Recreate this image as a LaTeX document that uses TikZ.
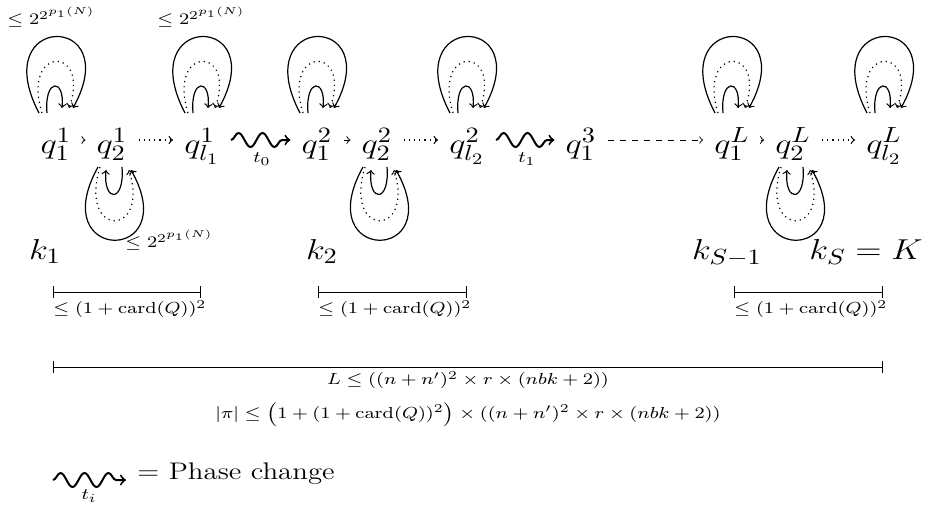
\documentclass[tikz,border=0pt]{standalone}
\usetikzlibrary{decorations.pathmorphing}
\newcommand\sx{1.2}
\newcommand\fq{\fontsize{15.5}{17}\selectfont}
\newcommand\fk{\fontsize{15.5}{17}\selectfont}
\newcommand\fsm{\fontsize{7.9}{9}\selectfont}
\newcommand\fexp{\fontsize{8}{9.5}\selectfont}
\newcommand\fph{\fontsize{12}{14}\selectfont}
\newcommand\toploops[1]{%
 \begin{scope}[shift={(#1.center)}]
  \draw[loopo] (-17,-27) .. controls (-70,-128) and (70,-128) .. (17,-32);
  \draw[loopo] (-9,-27) .. controls (-12,-62) and (9,-62) .. (6,-32);
  \draw[loopd] (-14,-27) .. controls (-35,-95) and (35,-95) .. (13,-32);
 \end{scope}}
\newcommand\botloops[1]{%
 \begin{scope}[shift={(#1.center)}]
  \draw[loopo] (-14,27) .. controls (-68,124) and (72,124) .. (19,30);
  \draw[loopo] (10,27) .. controls (13,63) and (-9,63) .. (-6,30);
  \draw[loopd] (-12,27) .. controls (-34,98) and (38,98) .. (17,30);
 \end{scope}}
\begin{document}
\begin{tikzpicture}[x=0.5pt,y=-0.5pt,>=to,
  state/.style={font=\fq, xscale=\sx, inner xsep=4.5pt, inner ysep=0pt, text height=13.5pt, text depth=0.5pt},
  lbl/.style={xscale=\sx, inner sep=0pt},
  small/.style={lbl, font=\fsm},
  expo/.style={lbl, font=\fexp},
  big/.style={lbl, font=\fk},
  arr/.style={->, line width=0.5pt},
  dotarr/.style={->, dotted, line width=0.6pt},
  dasharr/.style={->, dashed, line width=0.45pt},
  snk/.style={->, line width=1pt, decorate, decoration={snake, amplitude=3.5pt, segment length=12pt, post length=3pt}},
  loopo/.style={->, line width=0.6pt},
  loopd/.style={->, dotted, line width=0.6pt},
  bar/.style={|-|, line width=0.5pt},
]
\useasboundingbox (0,0) rectangle (930,509);

% states
\node[state] (q11) at (56,140) {$q_1^1$};
\node[state] (q21) at (112,140) {$q_2^1$};
\node[state] (ql1) at (202,140) {$q_{l_1}^1$};
\node[state] (q12) at (317,140) {$q_1^2$};
\node[state] (q22) at (377,140) {$q_2^2$};
\node[state] (ql2) at (467,140) {$q_{l_2}^2$};
\node[state] (q13) at (581,140) {$q_1^3$};
\node[state] (q1L) at (732,140) {$q_1^L$};
\node[state] (q2L) at (793,140) {$q_2^L$};
\node[state] (qlL) at (884,140) {$q_{l_2}^L$};

% connectors
\draw[arr] (q11) -- (q21);
\draw[dotarr] (q21) -- (ql1);
\draw[snk] (ql1) -- (q12);
\draw[arr] (q12) -- (q22);
\draw[dotarr] (q22) -- (ql2);
\draw[snk] (ql2) -- (q13);
\draw[dasharr] (q13) -- (q1L);
\draw[arr] (q1L) -- (q2L);
\draw[dotarr] (q2L) -- (qlL);

\node[small] (t0) at (262,159) {$t_0$};
\node[small] (t1) at (527,159) {$t_1$};

% loops
\toploops{q11}
\toploops{ql1}
\toploops{q12}
\toploops{ql2}
\toploops{q1L}
\toploops{qlL}
\botloops{q21}
\botloops{q22}
\botloops{q2L}

\node[expo, anchor=west] (c1) at (7,17) {$\leq 2^{2^{p_1(N)}}$};
\node[expo, anchor=west] (c2) at (157,17) {$\leq 2^{2^{p_1(N)}}$};
\node[expo, anchor=west] (c3) at (125,240) {$\leq 2^{2^{p_1(N)}}$};

% k labels
\node[big, anchor=base] (k1) at (45,259) {$k_1$};
\node[big, anchor=base] (k2) at (322,259) {$k_2$};
\node[big, anchor=base] (kS1) at (727,259) {$k_{S-1}$};
\node[big, anchor=base] (kS) at (866,259) {$k_S = K$};

% bars
\coordinate (b1a) at (53,292); \coordinate (b1b) at (201,292);
\coordinate (b2a) at (318,292); \coordinate (b2b) at (467,292);
\coordinate (b3a) at (734,292); \coordinate (b3b) at (883,292);
\coordinate (b4a) at (53,367); \coordinate (b4b) at (883,367);
\draw[bar] (b1a) -- (b1b);
\draw[bar] (b2a) -- (b2b);
\draw[bar] (b3a) -- (b3b);
\draw[bar] (b4a) -- (b4b);
\node[small, anchor=west] (l1) at (53,309) {$\leq (1+\mathrm{card}(Q))^2$};
\node[small, anchor=west] (l2) at (318,309) {$\leq (1+\mathrm{card}(Q))^2$};
\node[small, anchor=west] (l3) at (734,309) {$\leq (1+\mathrm{card}(Q))^2$};
\node[small] (lL) at (468,380) {$L \leq ((n+n')^2 \times r \times (nbk+2))$};
\node[small] (lpi) at (468,414) {$|\pi| \leq \bigl(1+(1+\mathrm{card}(Q))^2\bigr) \times ((n+n')^2 \times r \times (nbk+2))$};

% legend
\coordinate (lg1) at (53,480);
\coordinate (lg2) at (126,480);
\draw[snk] (lg1) -- (lg2);
\node[small] (ti) at (89,496) {$t_i$};
\node[lbl, font=\fph, anchor=base west] (pc) at (137,479) {$=$ Phase change};
\end{tikzpicture}
\end{document}
